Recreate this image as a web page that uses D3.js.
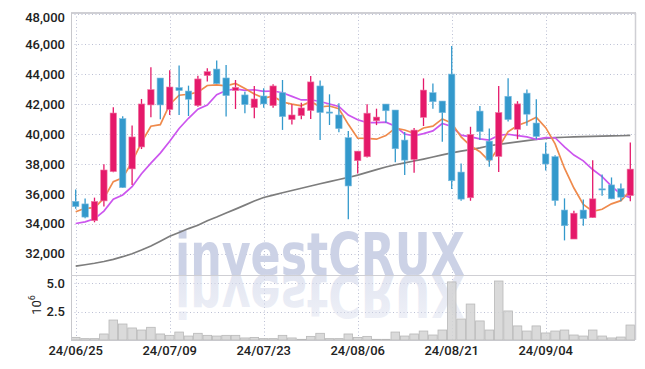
<!DOCTYPE html>
<meta charset="utf-8">
<style>
body { margin: 0; background: #fff; }
svg { display: block; }
.axis text { font-family: Roboto, "Liberation Sans", sans-serif; font-size: 13px; font-weight: 500; fill: #222; }
.grid line { stroke: #bcc0d4; stroke-width: 1; stroke-dasharray: 1,2.5; }
</style>
<svg width="645" height="369"></svg>
<script src="https://cdn.jsdelivr.net/npm/d3@7"></script>
<script>

// trading days shown (yy/mm/dd)
var dates = ["24/06/25","24/06/26","24/06/27","24/06/28","24/07/01","24/07/02","24/07/03","24/07/04","24/07/05","24/07/08",
             "24/07/09","24/07/10","24/07/11","24/07/12","24/07/15","24/07/16","24/07/17","24/07/18","24/07/19","24/07/22",
             "24/07/23","24/07/24","24/07/25","24/07/26","24/07/29","24/07/30","24/07/31","24/08/01","24/08/02","24/08/05",
             "24/08/06","24/08/07","24/08/08","24/08/09","24/08/12","24/08/13","24/08/14","24/08/16","24/08/19","24/08/20",
             "24/08/21","24/08/22","24/08/23","24/08/26","24/08/27","24/08/28","24/08/29","24/08/30","24/09/02","24/09/03",
             "24/09/04","24/09/05","24/09/06","24/09/09","24/09/10","24/09/11","24/09/12","24/09/13","24/09/19","24/09/20"];

var opens  = [35500,35330,34210,35530,37490,41030,37670,39140,41950,43750,
              41640,43110,42880,41900,43910,44350,43755,42910,42620,41770,
              42550,41900,42770,40970,41230,41570,43220,41480,41280,39760,
              38220,38485,40890,42010,41610,39600,38300,41116,42770,42210,
              44015,37460,35740,41540,39530,38500,42530,40320,42740,40740,
              38670,38490,34920,32980,34920,34410,36340,36600,36350,35880];
var highs  = [36300,35700,35750,37980,41790,41190,40570,42350,44470,43750,
              44270,44580,43240,43910,44400,44920,44620,43620,42840,43220,
              43060,43330,43620,41990,42100,43890,43580,42660,42060,40210,
              38870,41990,41700,42010,41610,40135,40400,43725,43390,42210,
              45900,38040,40490,41875,40380,43220,43730,42200,42980,42330,
              39430,38580,35700,34870,35630,38250,37300,37100,36700,39440];
var lows   = [35000,34370,34100,35150,37450,36400,36600,39000,41120,40990,
              41280,41280,41210,41830,43510,43350,41170,41680,41390,41060,
              41770,41770,40280,40650,40990,41010,39610,40610,40120,34300,
              37370,38440,40600,40760,38110,37260,37410,40540,41700,39490,
              36330,35540,35540,39600,37820,37470,40840,39660,40550,39660,
              37570,35200,32890,32980,33870,34380,35870,35650,35500,35500];
var closes = [35150,34450,35500,37600,41410,36420,39810,42015,42975,41950,
              43150,42910,42330,43690,44180,43370,42570,43130,41970,42350,
              42015,43220,41170,41280,41750,43490,41440,41440,40365,36530,
              38860,41400,41140,41560,39020,38260,40270,42945,42165,41430,
              36880,35650,39980,40160,38260,41440,40970,42020,41330,39840,
              38000,35550,33870,34710,34340,35670,36280,35670,35780,37660];

// volume, millions of shares
var volumes = [0.23,0.12,0.12,0.53,1.76,1.41,1.06,0.88,1.12,0.53,
               0.41,0.70,0.35,0.59,0.41,0.35,0.41,0.41,0.18,0.23,
               0.12,0.12,0.41,0.18,0.06,0.32,0.59,0.12,0.12,0.53,
               0.23,0.32,0.06,0.06,0.70,0.35,0.53,0.79,0.44,0.88,
               5.12,1.85,3.17,1.68,0.88,5.20,2.56,1.24,0.79,1.24,
               0.62,0.79,0.88,0.44,0.35,0.88,0.35,0.18,0.26,1.32];

// moving averages
var ma5 = [34810,35035,35080,35700,36822,37076,38148,39451,40526,40634,
           41980,42600,42663,42806,43252,43296,43228,43388,43044,42678,
           42407,42537,42145,42007,41887,42182,41826,41880,41697,40653,
           39727,39719,39659,39898,40396,40276,40050,40411,40532,41014,
           40738,39814,39221,38820,38186,39098,40162,40570,40804,41120,
           40432,39348,37718,36394,35294,34828,34974,35334,35548,36212];
var ma10 = [34020,34130,34330,34850,35650,35930,36480,37350,38060,38728,
            39528,40374,41057,41666,41943,42638,42914,43026,42925,42965,
            42852,42883,42767,42526,42283,42295,42182,42013,41852,41270,
            40955,40773,40770,40798,40525,40002,39885,40035,40215,40705,
            40507,39932,39816,39676,39600,39918,39988,39896,39812,39653,
            39765,39755,39144,38599,38207,37630,37161,36526,35971,35753];
var maLong = [31170,31260,31360,31480,31620,31800,32000,32250,32520,32840,
              33170,33420,33680,33900,34200,34450,34720,34980,35250,35520,
              35760,35920,36080,36230,36380,36530,36680,36820,36960,37100,
              37260,37440,37620,37800,37950,38080,38200,38330,38470,38610,
              38740,38860,38960,39080,39220,39310,39400,39480,39560,39640,
              39720,39760,39790,39810,39830,39850,39870,39880,39890,39910];

var priceTicks = [32000,34000,36000,38000,40000,42000,44000,46000,48000];
var volTicks = [2.5, 5.0];
var dateTicks = ["24/06/25","24/07/09","24/07/23","24/08/06","24/08/21","24/09/04"];

var svg = d3.select("svg");
var pLeft = 71, pRight = 635, pTop = 13, pMid = 275, pBottom = 340;

var x = d3.scaleBand().domain(dates).range([pLeft, pRight]).padding(0);
var y = d3.scaleLinear().domain([30575, 48100]).range([pMid, pTop]);
var yv = d3.scaleLinear().domain([0, 5.73]).range([pBottom, pMid]);
var bw = x.bandwidth();
var cx = function(i) { return x(dates[i]) + bw / 2; };

svg.append("rect").attr("width", 645).attr("height", 369).attr("fill", "#fff");

// grid
var grid = svg.append("g").attr("class", "grid");
grid.selectAll(".hp").data(priceTicks).enter().append("line")
    .attr("x1", pLeft).attr("x2", pRight)
    .attr("y1", function(d) { return Math.round(y(d)) + 0.5; })
    .attr("y2", function(d) { return Math.round(y(d)) + 0.5; });
grid.selectAll(".hv").data(volTicks).enter().append("line")
    .attr("x1", pLeft).attr("x2", pRight)
    .attr("y1", function(d) { return Math.round(yv(d)) + 0.5; })
    .attr("y2", function(d) { return Math.round(yv(d)) + 0.5; });
grid.selectAll(".vx").data(dateTicks).enter().append("line")
    .attr("x1", function(d) { return Math.round(x(d) + bw / 2) + 0.5; })
    .attr("x2", function(d) { return Math.round(x(d) + bw / 2) + 0.5; })
    .attr("y1", pTop).attr("y2", pBottom);

// watermark + reflection
var defs = svg.append("defs");
var grad = defs.append("linearGradient").attr("id", "fade")
    .attr("gradientUnits", "userSpaceOnUse")
    .attr("x1", 0).attr("y1", 233).attr("x2", 0).attr("y2", 275);
grad.append("stop").attr("offset", 0).attr("stop-color", "#d3d8ea").attr("stop-opacity", 0.4);
grad.append("stop").attr("offset", 1).attr("stop-color", "#d3d8ea").attr("stop-opacity", 0.65);

function mark(g, fill) {
  g.append("text")
    .attr("x", 175).attr("y", pMid)
    .attr("textLength", 290).attr("lengthAdjust", "spacingAndGlyphs")
    .attr("font-family", "DejaVu Sans")
    .attr("font-weight", "bold")
    .attr("font-size", 58)
    .attr("fill", fill)
    .text("investCRUX");
}
mark(svg.append("g"), "#ccd2e6");
mark(svg.append("g").attr("transform", "translate(0," + (2 * pMid) + ") scale(1,-1)"), "url(#fade)");

// volume bars
svg.append("g").selectAll("rect").data(volumes).enter().append("rect")
    .attr("x", function(d, i) { return x(dates[i]) + 0.4; })
    .attr("width", bw - 0.8)
    .attr("y", function(d) { return yv(d); })
    .attr("height", function(d) { return pBottom - yv(d); })
    .attr("fill", "#d4d4d4").attr("fill-opacity", 0.85)
    .attr("stroke", "#b8b8b8").attr("stroke-width", 0.8);

// moving averages
var line = d3.line().x(function(d, i) { return cx(i); }).y(function(d) { return y(d); });
svg.append("path").datum(maLong).attr("d", line).attr("fill", "none").attr("stroke", "#7d7d7d").attr("stroke-width", 1.7);
svg.append("path").datum(ma10).attr("d", line).attr("fill", "none").attr("stroke", "#cc55ee").attr("stroke-width", 1.7);
svg.append("path").datum(ma5).attr("d", line).attr("fill", "none").attr("stroke", "#ef8a4c").attr("stroke-width", 1.7);

// candles
var up = "#e5196a", down = "#3399cc";
var candles = svg.append("g").selectAll("g").data(dates).enter().append("g");
candles.append("line")
    .attr("x1", function(d, i) { return cx(i); })
    .attr("x2", function(d, i) { return cx(i); })
    .attr("y1", function(d, i) { return y(highs[i]); })
    .attr("y2", function(d, i) { return y(lows[i]); })
    .attr("stroke", function(d, i) { return closes[i] >= opens[i] ? up : down; })
    .attr("stroke-width", 1.3);
candles.append("rect")
    .attr("x", function(d, i) { return cx(i) - 3.2; })
    .attr("width", 6.4)
    .attr("y", function(d, i) { return y(Math.max(opens[i], closes[i])); })
    .attr("height", function(d, i) { return Math.max(1.2, Math.abs(y(opens[i]) - y(closes[i]))); })
    .attr("fill", function(d, i) { return closes[i] >= opens[i] ? up : down; })
    .attr("stroke", function(d, i) { return closes[i] >= opens[i] ? "#f07aa5" : "#7fbde0"; })
    .attr("stroke-width", 0.6);

// frame
var frame = svg.append("g").attr("fill", "none");
frame.append("line").attr("x1", pLeft).attr("x2", pRight + 1).attr("y1", pTop).attr("y2", pTop).attr("stroke", "#cfcfd4").attr("stroke-width", 2);
frame.append("line").attr("x1", pLeft + 0.5).attr("x2", pLeft + 0.5).attr("y1", pTop).attr("y2", pBottom).attr("stroke", "#c8c8cc");
frame.append("line").attr("x1", pRight + 0.5).attr("x2", pRight + 0.5).attr("y1", pTop).attr("y2", pBottom).attr("stroke", "#cfcfd4").attr("stroke-width", 1.5);
frame.append("line").attr("x1", pLeft).attr("x2", pRight).attr("y1", pMid + 0.5).attr("y2", pMid + 0.5).attr("stroke", "#cfcfd4");
frame.append("line").attr("x1", pLeft).attr("x2", pRight).attr("y1", pBottom + 0.5).attr("y2", pBottom + 0.5).attr("stroke", "#c8c8cc");

// axes
svg.append("g").attr("class", "axis")
    .attr("transform", "translate(" + pLeft + ",0)")
    .call(d3.axisLeft(y).tickValues(priceTicks).tickFormat(d3.format(",")).tickSize(0).tickPadding(6))
    .call(function(g) { g.select(".domain").remove(); })
    .call(function(g) {
      // top label sits a little lower so it stays clear of the edge
      g.selectAll(".tick text").filter(function(d) { return d === 48000; }).attr("dy", "0.52em");
    });

svg.append("g").attr("class", "axis")
    .attr("transform", "translate(" + pLeft + ",0)")
    .call(d3.axisLeft(yv).tickValues(volTicks).tickFormat(d3.format(".1f")).tickSize(0).tickPadding(6))
    .call(function(g) { g.select(".domain").remove(); });

svg.append("g").attr("class", "axis")
    .attr("transform", "translate(0," + pBottom + ")")
    .call(d3.axisBottom(x).tickValues(dateTicks).tickSize(0).tickPadding(6))
    .call(function(g) { g.select(".domain").remove(); });

// volume unit
var unit = svg.append("text")
    .attr("transform", "translate(41,305) rotate(-90)")
    .attr("text-anchor", "middle")
    .attr("font-family", "Roboto, sans-serif")
    .attr("font-size", 13)
    .attr("fill", "#222");
unit.append("tspan").text("10");
unit.append("tspan").attr("dy", -6).attr("font-size", 9).text("6");

</script>
